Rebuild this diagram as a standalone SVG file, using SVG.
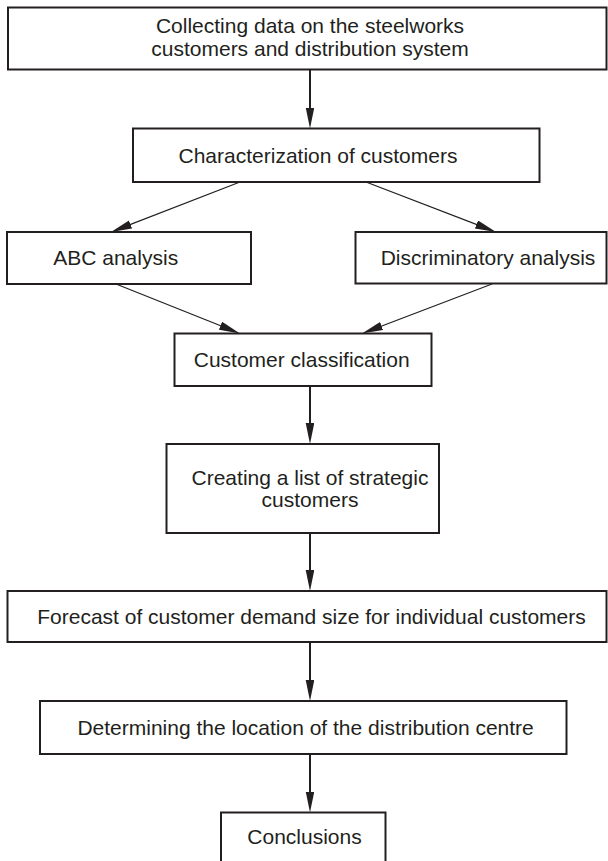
<svg xmlns="http://www.w3.org/2000/svg" width="608" height="861" viewBox="0 0 608 861">
<style>
.box{fill:#fff;stroke:#231f20;stroke-width:2}
.lbl{font-family:"Liberation Sans",Arial,sans-serif;font-size:21px;fill:#231f20;text-anchor:middle}
.v{stroke:#231f20;stroke-width:2;fill:none}
.d{stroke:#231f20;stroke-width:1.2;fill:none}
</style>
<defs>
<marker id="ah" markerUnits="userSpaceOnUse" markerWidth="22" markerHeight="10" refX="11" refY="4.3" orient="auto">
<path d="M0,0 L21,4.3 L0,8.6 z" fill="#231f20"/>
</marker>
</defs>
<rect width="608" height="861" fill="#fff"/>
<g id="connectors">
<line class="v" x1="310" y1="69.5" x2="310" y2="118.5" marker-end="url(#ah)"/>
<line class="d" x1="240" y1="182" x2="120.3" y2="228.4" marker-end="url(#ah)"/>
<line class="d" x1="366" y1="182" x2="486.7" y2="228.4" marker-end="url(#ah)"/>
<line class="d" x1="116" y1="284" x2="230.7" y2="329.8" marker-end="url(#ah)"/>
<line class="d" x1="492" y1="284" x2="371.3" y2="330" marker-end="url(#ah)"/>
<line class="v" x1="310" y1="386" x2="310" y2="434" marker-end="url(#ah)"/>
<line class="v" x1="310" y1="533" x2="310" y2="581" marker-end="url(#ah)"/>
<line class="v" x1="310" y1="642" x2="310" y2="691" marker-end="url(#ah)"/>
<line class="v" x1="310" y1="754" x2="310" y2="802.5" marker-end="url(#ah)"/>
</g>
<g id="n1">
<rect class="box" x="8" y="7.5" width="598.5" height="62"/>
<text class="lbl" x="310" y="33">Collecting data on the steelworks</text>
<text class="lbl" x="310" y="55.5">customers and distribution system</text>
</g>
<g id="n2">
<rect class="box" x="133" y="128.5" width="406.5" height="53.5"/>
<text class="lbl" x="318" y="162.5">Characterization of customers</text>
</g>
<g id="n3">
<rect class="box" x="7" y="232" width="244" height="52"/>
<text class="lbl" x="115.7" y="264.5">ABC analysis</text>
</g>
<g id="n4">
<rect class="box" x="355.5" y="232" width="251" height="51.5"/>
<text class="lbl" x="488" y="264.5">Discriminatory analysis</text>
</g>
<g id="n5">
<rect class="box" x="174.5" y="333.5" width="257" height="52.5"/>
<text class="lbl" x="301.7" y="367">Customer classification</text>
</g>
<g id="n6">
<rect class="box" x="166.5" y="444" width="272.5" height="89"/>
<text class="lbl" x="310" y="485">Creating a list of strategic</text>
<text class="lbl" x="310" y="507">customers</text>
</g>
<g id="n7">
<rect class="box" x="7.5" y="591" width="599" height="51"/>
<text class="lbl" x="311.5" y="624">Forecast of customer demand size for individual customers</text>
</g>
<g id="n8">
<rect class="box" x="40" y="701" width="526.5" height="53"/>
<text class="lbl" x="305.6" y="735">Determining the location of the distribution centre</text>
</g>
<g id="n9">
<rect class="box" x="221" y="812.5" width="164.5" height="60"/>
<text class="lbl" x="304.5" y="844">Conclusions</text>
</g>
</svg>
